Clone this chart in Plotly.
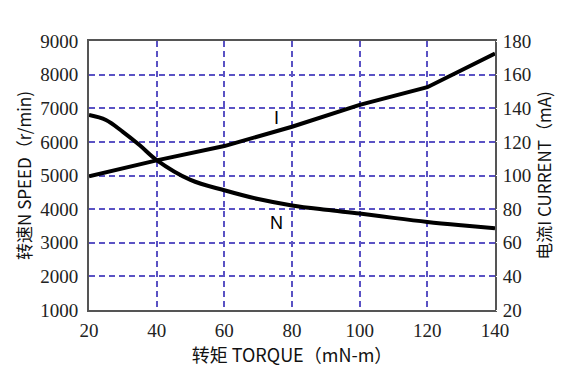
import plotly.graph_objects as go

torque = [20, 25, 30, 35, 40, 50, 60, 70, 80, 90, 100, 110, 120, 130, 140]
speed = [6800, 6650, 6300, 5900, 5460, 4870, 4560, 4300, 4110, 3980, 3870, 3740, 3620, 3520, 3430]
current_x = [20, 40, 60, 80, 100, 120, 140]
current = [99.5, 109, 117.5, 129, 142, 152.5, 172.5]

grid_color = "#5a52c4"
tick_font = dict(family="'Liberation Serif'", size=19, color="#222222")
title_font = dict(family="'Noto Sans CJK SC'", size=17, color="#111111")

fig = go.Figure()
fig.add_trace(go.Scatter(x=torque, y=speed, mode="lines", line=dict(color="black", width=4, shape="spline"), yaxis="y", showlegend=False))
fig.add_trace(go.Scatter(x=current_x, y=current, mode="lines", line=dict(color="black", width=4), yaxis="y2", showlegend=False))

fig.add_annotation(x=75.3, y=6710, text="I", showarrow=False, font=dict(family="'Liberation Sans'", size=18, color="black"))
fig.add_annotation(x=75.3, y=3580, text="N", showarrow=False, font=dict(family="'Liberation Sans'", size=18, color="black"))

fig.update_layout(
    width=580, height=390,
    margin=dict(l=81, r=93, t=33, b=88),
    paper_bgcolor="white", plot_bgcolor="white",
    xaxis=dict(range=[20, 140], dtick=20, tick0=20, showgrid=True, gridcolor=grid_color, griddash="6px,4px", gridwidth=2,
               showline=True, linecolor="#555555", linewidth=2, mirror=True, zeroline=False, automargin=False,
               tickfont=tick_font, ticks="outside", ticklen=2, tickcolor="white",
               title=dict(text="转矩 TORQUE（mN-m）", font=dict(family="'Noto Sans CJK SC'", size=18, color="#111111"), standoff=2)),
    yaxis=dict(range=[1000, 9000], dtick=1000, tick0=1000, showgrid=True, gridcolor=grid_color, griddash="6px,4px", gridwidth=2,
               showline=True, linecolor="#555555", linewidth=2, mirror=True, zeroline=False, automargin=False,
               tickfont=tick_font, ticks="outside", ticklen=5, tickcolor="white",
               title=dict(text="转速N SPEED（r/min)", font=title_font, standoff=4)),
    yaxis2=dict(range=[20, 180], dtick=20, tick0=20, overlaying="y", side="right", showgrid=False, zeroline=False, automargin=False,
                tickfont=tick_font, ticks="outside", ticklen=3, tickcolor="white",
                title=dict(text="电流I CURRENT（mA)", font=title_font, standoff=8)),
)

fig.write_html("out.html")
